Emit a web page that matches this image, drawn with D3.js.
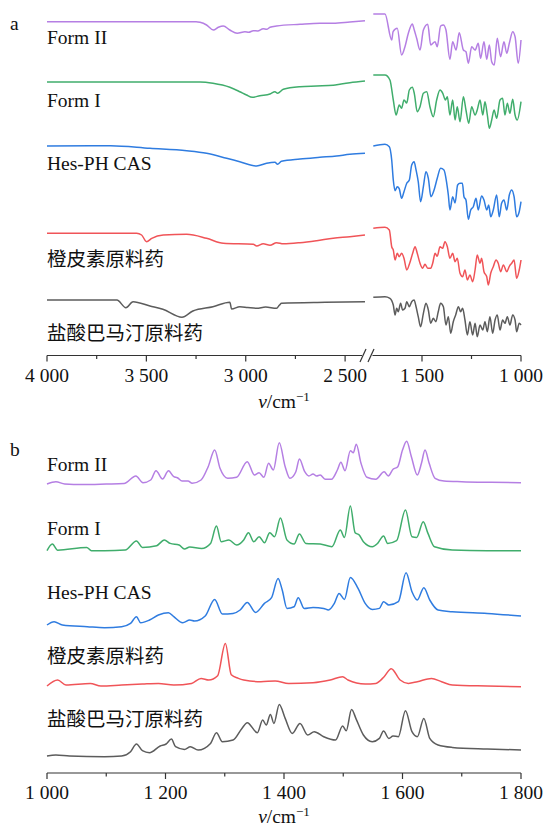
<!DOCTYPE html>
<html>
<head>
<meta charset="utf-8">
<script src="https://cdn.jsdelivr.net/npm/d3@7"></script>
<style>
    body { margin: 0; background: #fff; }
    text { font-family: "Liberation Serif", "Noto Sans CJK SC", serif; fill: #111; }
</style>
</head>
<body>
<svg id="chart" width="545" height="826"></svg>
<script>
// ---- data ----------------------------------------------------------------
const seriesNames = ['Form II', 'Form I', 'Hes-PH CAS', '橙皮素原料药', '盐酸巴马汀原料药'];
const seriesColors = ['#b57fe3', '#40ad6c', '#2f7ce0', '#f05458', '#5c5c5c'];

// IR ticks (broken axis)
const irHighTicks = [4000, 3500, 3000, 2500];
const irHighMinor = [3750, 3250, 2750];
const irLowTicks = [1500, 1000];
const irLowMinor = [1250];

// Raman ticks
const ramanTicks = [1000, 1200, 1400, 1600, 1800];
const ramanMinor = [1100, 1300, 1500, 1700];

// IR transmittance, [wavenumber, T] (relative units), 4000-2400 part
const irFormIIHigh = [[4000, 0.3], [3600, 0.3], [3250, 0.3], [3230, -0.3], [3197, -3], [3163, -8], [3138, -5.3],
    [3113, -4], [3080, -8], [3043, -11.3], [3004, -9.7], [2985, -10.3], [2962, -8.7], [2940, -9], [2912, -6.7],
    [2895, -7.3], [2878, -5.3], [2845, -4], [2727, -2.3], [2627, -1.3], [2560, -1.3], [2476, 0], [2400, 1.3]];
const irFormIHigh = [[4000, 0], [3500, 0], [3230, 0], [3165, -1.3], [3080, -5.3], [3030, -9.7], [2996, -13],
    [2967, -15.3], [2929, -13.7], [2878, -12], [2853, -9.7], [2840, -11.3], [2811, -7.3], [2727, -4.7],
    [2643, -4], [2560, -3.3], [2520, -2], [2476, -0.7], [2400, 1]];
const irHesHigh = [[4000, 0], [3680, 0.3], [3482, -2.3], [3297, -4.7], [3197, -7.3], [3096, -12.3], [3030, -15.7],
    [2945, -20], [2895, -17.3], [2853, -16.3], [2840, -18.3], [2820, -15.3], [2727, -13], [2627, -11.3],
    [2543, -10], [2476, -8.3], [2400, -7.3]];
const irHesperetinHigh = [[4000, 0], [3549, 0], [3524, -1.7], [3499, -8.4], [3473, -5], [3415, -1.7], [3297, -1],
    [3197, -5], [3113, -10], [2962, -11], [2945, -12.7], [2912, -10.5], [2878, -12], [2845, -9.4], [2811, -10.5],
    [2727, -9.4], [2643, -7.4], [2560, -5], [2476, -3.4], [2400, -1.7]];
const irPalmatineHigh = [[4000, 0], [3648, 0], [3603, -7.7], [3567, -1.7], [3482, -6], [3417, -9.3], [3321, -17.3],
    [3266, -11], [3165, -6.7], [3080, -2.3], [3071, -9], [3030, -6.7], [2990, -7.5], [2945, -8.3], [2900, -7],
    [2845, -8.3], [2830, -5], [2820, -3.3], [2600, -2.3], [2400, -1.7]];

// IR transmittance, 1750-1000 part
const irFormIILow = [[1746, 8], [1687, 8], [1653, -18], [1646, -9.7], [1625, -6.3], [1603, -33], [1586, -24.7],
    [1569, -11.3], [1549, -2], [1539, -8], [1527, -16.3], [1510, -28], [1493, -8], [1471, -2.3], [1456, -23],
    [1434, -19.7], [1423, -24.7], [1406, -4], [1392, -3], [1379, -8], [1359, -37.3], [1345, -19.7], [1328, -28],
    [1312, -10.7], [1291, -28], [1278, -29.7], [1266, -41.3], [1249, -24.7], [1232, -28], [1216, -21.3],
    [1204, -36.3], [1187, -19.7], [1173, -37.3], [1160, -23], [1148, -39.7], [1135, -43], [1120, -16.3],
    [1103, -34.7], [1086, -19.7], [1072, -31.3], [1059, -21.3], [1042, -9.7], [1030, -14.7], [1014, -41.3],
    [1000, -18]];
const irFormILow = [[1746, 7], [1687, 7], [1662, 2], [1645, -18], [1631, -33], [1615, -23], [1603, -26.3],
    [1591, -18], [1577, -21], [1564, -8], [1549, -5.3], [1539, -11.3], [1524, -29.7], [1510, -24.7],
    [1493, -11.3], [1476, -9.7], [1460, -24.7], [1443, -34.7], [1426, -18], [1409, -8], [1395, -11.3],
    [1382, -18], [1372, -14.7], [1359, -33], [1345, -18], [1333, -38], [1322, -24.7], [1308, -39.7],
    [1291, -14.7], [1278, -28], [1264, -41.3], [1249, -24.7], [1232, -33], [1221, -28], [1207, -18],
    [1193, -33], [1182, -19.7], [1170, -33], [1160, -46.3], [1148, -38], [1136, -28], [1123, -36.3],
    [1106, -18], [1093, -16.3], [1081, -33], [1069, -21.3], [1056, -31.3], [1042, -17.3], [1030, -33],
    [1019, -38], [1000, -19.7]];
const irHesLow = [[1746, 0], [1687, 1.7], [1665, -0.7], [1653, -14], [1645, -34], [1636, -44.7], [1625, -40.7],
    [1615, -42.7], [1603, -52.3], [1591, -45.7], [1577, -37.3], [1564, -34], [1552, -19], [1540, -15.7],
    [1530, -24], [1519, -35.7], [1507, -55.7], [1493, -40.7], [1480, -25.7], [1468, -32.3], [1455, -50.7],
    [1439, -44], [1423, -32.3], [1406, -22.3], [1389, -24], [1375, -37.3], [1367, -49], [1359, -64],
    [1345, -50.7], [1333, -57], [1320, -39], [1308, -37.3], [1296, -37.3], [1288, -50.7], [1278, -54],
    [1266, -73.3], [1254, -64], [1241, -60.7], [1227, -52.3], [1216, -64], [1199, -50], [1187, -54],
    [1173, -64], [1163, -59], [1153, -70.7], [1140, -64], [1123, -49], [1110, -70.7], [1098, -57.3],
    [1086, -54], [1072, -64], [1059, -49], [1047, -44], [1035, -50.7], [1022, -70.7], [1009, -65.7],
    [1000, -55.7]];
const irHesperetinLow = [[1746, 5], [1687, 6], [1665, 3.3], [1653, -13.4], [1645, -16.7], [1636, -26.7],
    [1625, -20], [1615, -23.4], [1603, -20], [1591, -25], [1577, -36.7], [1564, -31], [1547, -20],
    [1535, -13.4], [1524, -20], [1510, -30], [1497, -35], [1485, -31], [1471, -35], [1456, -35], [1446, -30],
    [1434, -20], [1423, -23], [1409, -13.4], [1396, -15], [1384, -8.4], [1372, -13.4], [1359, -25],
    [1345, -20], [1333, -28.4], [1322, -25], [1308, -40], [1295, -43.4], [1283, -36.7], [1271, -46.7],
    [1258, -41.7], [1244, -48.4], [1232, -36.7], [1221, -21.7], [1207, -30], [1199, -25], [1187, -38.4],
    [1173, -43.4], [1165, -51.7], [1153, -40], [1140, -33.4], [1126, -26.7], [1115, -30], [1103, -38.4],
    [1089, -31.7], [1072, -38.4], [1059, -33], [1047, -30], [1035, -26.7], [1022, -45], [1009, -36.7],
    [1000, -26.7]];
const irPalmatineLow = [[1746, 2.7], [1687, 3.3], [1662, 1.7], [1645, -5], [1636, -15], [1628, -8.3],
    [1620, -11.7], [1608, -3.3], [1598, -10], [1586, -8.3], [1577, -1.7], [1564, -6.7], [1552, -1.7],
    [1540, 0], [1530, -6.7], [1519, -16.7], [1507, -26.7], [1493, -13.3], [1480, -3.3], [1468, -10],
    [1456, -23.3], [1443, -18.3], [1430, -21.7], [1418, -11.7], [1406, -3.3], [1392, -6.7], [1379, -25],
    [1367, -16.7], [1355, -33.3], [1342, -21.7], [1330, -15], [1316, -6.7], [1305, -11.7], [1295, -8.3],
    [1283, -20], [1271, -35], [1258, -21.7], [1244, -35], [1232, -23.3], [1221, -36.7], [1207, -25],
    [1193, -30], [1182, -21.7], [1170, -31.7], [1157, -16.7], [1143, -33.3], [1131, -20], [1120, -15],
    [1106, -30], [1093, -20], [1081, -23.3], [1069, -16.7], [1056, -25], [1042, -15], [1030, -20],
    [1022, -31.7], [1009, -23.3], [1000, -25]];

// Raman intensity, [Raman shift, I] (relative units)
const ramanFormII = [[1000, 0], [1015, 2.3], [1030, 0], [1060, -0.5], [1100, 0], [1130, 0.5], [1150, 8],
    [1162, 1.3], [1175, 4], [1184, 13.3], [1195, 5], [1205, 13.3], [1214, 7.3], [1220, 6.3], [1228, 3],
    [1238, 3], [1245, 0.7], [1260, 4], [1272, 17.3], [1283, 34], [1292, 15.7], [1305, 5.7], [1320, 6.7],
    [1338, 22.3], [1350, 9], [1358, 11.3], [1366, 6.7], [1374, 20.7], [1382, 14], [1392, 41.3], [1402, 17.3],
    [1410, 5.7], [1420, 12.3], [1426, 25], [1435, 12.3], [1442, 8], [1449, 10], [1455, 8], [1461, 9],
    [1470, 4.7], [1480, 4.7], [1490, 14], [1496, 21.7], [1503, 13.3], [1512, 33.3], [1517, 31.3],
    [1522, 39.7], [1530, 20.7], [1540, 6.7], [1555, 4.7], [1569, 12.3], [1576, 8], [1584, 14.7],
    [1592, 17.3], [1600, 34], [1607, 42.7], [1615, 27.3], [1625, 9], [1632, 20.7], [1638, 34], [1645, 20.7],
    [1655, 5.7], [1670, 3], [1700, 2.3], [1750, 1.7], [1800, 1.3]];
const ramanFormI = [[1000, 0], [1009, 6.7], [1018, 0.5], [1067, 3.3], [1075, 0], [1097, 0], [1132, 0.7],
    [1151, 9.7], [1161, 3.3], [1185, 5], [1198, 10.7], [1208, 7.3], [1223, 5.7], [1232, 1.7], [1241, 3.7],
    [1261, 2.3], [1276, 7.3], [1286, 24.7], [1294, 9], [1307, 10.7], [1320, 5.7], [1332, 10.7], [1340, 18],
    [1349, 9], [1358, 14], [1367, 8], [1376, 18], [1384, 14], [1394, 32.7], [1405, 10.7], [1417, 6.7],
    [1426, 16.7], [1437, 7.3], [1461, 6.7], [1481, 4], [1495, 20.7], [1502, 13.3], [1512, 44.7], [1520, 18],
    [1527, 15.7], [1534, 9], [1549, 4], [1558, 7.3], [1568, 14.7], [1575, 7.3], [1590, 10], [1605, 40.7],
    [1616, 14], [1624, 13.3], [1635, 29], [1643, 17.3], [1654, 4], [1684, 0.7], [1743, 0], [1800, 0]];
const ramanHes = [[1000, 2.7], [1012, 6], [1026, 2.7], [1068, 1], [1097, 0], [1126, 1], [1141, 4.3],
    [1151, 11], [1158, 5], [1173, 7.7], [1188, 12.7], [1205, 15], [1214, 11], [1229, 5], [1241, 7.7],
    [1249, 6.7], [1267, 11.7], [1283, 28.3], [1296, 13.7], [1314, 14.3], [1326, 17.7], [1338, 25.3],
    [1352, 15.3], [1367, 24.3], [1379, 30], [1390, 49.3], [1397, 37.7], [1405, 19.3], [1417, 21], [1424, 30],
    [1434, 19.3], [1449, 20.3], [1467, 19.3], [1475, 17.7], [1485, 24.3], [1493, 34.3], [1502, 28.3],
    [1512, 50.3], [1525, 39.3], [1537, 24.3], [1549, 18.3], [1561, 19.3], [1568, 26], [1577, 22.7],
    [1593, 26], [1606, 55], [1616, 36], [1625, 27.7], [1636, 40], [1646, 27.7], [1660, 17.7], [1684, 16],
    [1743, 14.3], [1800, 11.7]];
const ramanHesperetin = [[1000, 0.7], [1018, 6.7], [1032, 1.7], [1073, 3.3], [1091, 0.7], [1126, 1.7],
    [1161, 2.7], [1188, 3.3], [1214, 1.7], [1244, 3.3], [1260, 8.3], [1273, 6.7], [1288, 11], [1301, 43.3],
    [1311, 12], [1323, 8.3], [1332, 6.7], [1361, 5], [1385, 5.7], [1408, 3.3], [1449, 4], [1478, 6.7],
    [1499, 10], [1508, 6.7], [1537, 2.7], [1555, 3.3], [1569, 10], [1581, 18], [1596, 6.7], [1610, 3.3],
    [1625, 5], [1649, 8.3], [1666, 5], [1684, 1.7], [1743, 0.7], [1800, 0]];
const ramanPalmatine = [[1000, 0.7], [1015, 1.7], [1038, 0.7], [1097, 0], [1126, 0.7], [1141, 5], [1151, 12.7],
    [1161, 6], [1173, 4], [1191, 10.7], [1201, 12.7], [1210, 17.7], [1217, 10], [1232, 7.3], [1242, 10],
    [1255, 6.7], [1276, 13.3], [1286, 24], [1296, 15], [1314, 16.7], [1329, 28.3], [1338, 34], [1355, 24],
    [1364, 36.7], [1370, 31.7], [1377, 42.3], [1383, 33.3], [1392, 52.3], [1402, 38.3], [1414, 23.3],
    [1427, 33.3], [1440, 21.7], [1451, 25], [1467, 20], [1487, 16.7], [1499, 30.7], [1505, 26], [1514, 47.3],
    [1522, 37.3], [1534, 21.7], [1549, 15], [1561, 18.3], [1568, 25.7], [1577, 18.3], [1584, 20.7],
    [1593, 20], [1605, 46], [1616, 25], [1625, 20], [1636, 38.3], [1646, 18.3], [1660, 11.7], [1684, 9.3],
    [1743, 7.7], [1800, 6.7]];

// ---- layout --------------------------------------------------------------
const fontSize = 19.5;
const axisAY = 355.5,
    axisBY = 773;
// distance of each trace's zero level above its panel axis
const irOffsets = [333.5, 273.5, 209.5, 122.2, 55.5];
const ramanOffsets = [289, 222.3, 145.3, 86.3, 16.3];
const irLabelY = [44, 107, 170, 266, 340];
const ramanLabelY = [471, 535, 599, 663, 726];

const svg = d3.select('#chart');

const xHigh = d3.scaleLinear().domain([4000, 2415]).range([47, 362]);
const xLow = d3.scaleLinear().domain([1750, 1000]).range([372.5, 521]);
const xRaman = d3.scaleLinear().domain([1000, 1800]).range([47, 521]);

// one data unit = one pixel above the axis line
const yA = d3.scaleLinear().domain([0, 400]).range([axisAY, axisAY - 400]);
const yB = d3.scaleLinear().domain([0, 400]).range([axisBY, axisBY - 400]);

const spaceFormat = d3.formatLocale({decimal: '.', thousands: ' ', grouping: [3], currency: ['', '']}).format(',');

/**
 * draw one trace
 */
const drawTrace = (g, data, x, y, offset, color) => {
    const line = d3.line()
        .x(d => x(d[0]))
        .y(d => y(d[1] + offset))
        .curve(d3.curveMonotoneX);

    g.append('path')
        .datum(data)
        .attr('d', line)
        .attr('fill', 'none')
        .attr('stroke', color)
        .attr('stroke-width', 1.5)
        .attr('stroke-linejoin', 'round');
};

/**
 * bottom axis with major ticks (labels) and minor ticks
 */
const drawAxis = (g, x, y, ticks, minor, domain) => {
    const axis = g.append('g').attr('transform', `translate(0,${y})`);

    axis.append('line')
        .attr('x1', x(domain[0]))
        .attr('x2', x(domain[1]))
        .attr('stroke', '#333')
        .attr('stroke-width', 1.2);

    axis.selectAll('.major')
        .data(ticks)
        .enter()
        .append('line')
        .attr('x1', d => x(d))
        .attr('x2', d => x(d))
        .attr('y1', 0)
        .attr('y2', 6)
        .attr('stroke', '#333')
        .attr('stroke-width', 1.2);

    axis.selectAll('.minor')
        .data(minor)
        .enter()
        .append('line')
        .attr('x1', d => x(d))
        .attr('x2', d => x(d))
        .attr('y1', 0)
        .attr('y2', 3.5)
        .attr('stroke', '#333')
        .attr('stroke-width', 1.2);

    axis.selectAll('.label')
        .data(ticks)
        .enter()
        .append('text')
        .attr('x', d => x(d))
        .attr('y', 26)
        .attr('text-anchor', 'middle')
        .attr('font-size', fontSize)
        .text(d => spaceFormat(d));
};

const drawTitle = (y) => {
    const t = svg.append('text')
        .attr('x', 284)
        .attr('y', y)
        .attr('text-anchor', 'middle')
        .attr('font-size', fontSize);
    t.append('tspan').attr('font-style', 'italic').text('ν');
    t.append('tspan').text('/cm');
    t.append('tspan').attr('dy', -7).attr('font-size', 13).text('−1');
};

// ---- panel a: IR -----------------------------------------------------------
const panelA = svg.append('g');
const irHigh = [irFormIIHigh, irFormIHigh, irHesHigh, irHesperetinHigh, irPalmatineHigh];
const irLow = [irFormIILow, irFormILow, irHesLow, irHesperetinLow, irPalmatineLow];

irHigh.forEach((d, i) => drawTrace(panelA, d, xHigh, yA, irOffsets[i], seriesColors[i]));
irLow.forEach((d, i) => drawTrace(panelA, d, xLow, yA, irOffsets[i], seriesColors[i]));

panelA.selectAll('.name')
    .data(seriesNames)
    .enter()
    .append('text')
    .attr('x', 47)
    .attr('y', (d, i) => irLabelY[i])
    .attr('font-size', fontSize)
    .text(d => d);

drawAxis(panelA, xHigh, axisAY, irHighTicks, irHighMinor, [4000, 2415]);
drawAxis(panelA, xLow, axisAY, irLowTicks, irLowMinor, [1750, 1000]);

// axis break marks
[0, 8].forEach(dx => {
    panelA.append('line')
        .attr('x1', 360 + dx)
        .attr('y1', axisAY + 6.5)
        .attr('x2', 366 + dx)
        .attr('y2', axisAY - 6.5)
        .attr('stroke', '#333')
        .attr('stroke-width', 1.2);
});

drawTitle(408);

svg.append('text')
    .attr('x', 10)
    .attr('y', 30)
    .attr('font-size', fontSize)
    .text('a');

// ---- panel b: Raman --------------------------------------------------------
const panelB = svg.append('g');
const raman = [ramanFormII, ramanFormI, ramanHes, ramanHesperetin, ramanPalmatine];

raman.forEach((d, i) => drawTrace(panelB, d, xRaman, yB, ramanOffsets[i], seriesColors[i]));

panelB.selectAll('.name')
    .data(seriesNames)
    .enter()
    .append('text')
    .attr('x', 47)
    .attr('y', (d, i) => ramanLabelY[i])
    .attr('font-size', fontSize)
    .text(d => d);

drawAxis(panelB, xRaman, axisBY, ramanTicks, ramanMinor, [1000, 1800]);
drawTitle(823);

svg.append('text')
    .attr('x', 10)
    .attr('y', 456)
    .attr('font-size', fontSize)
    .text('b');
</script>
</body>
</html>
